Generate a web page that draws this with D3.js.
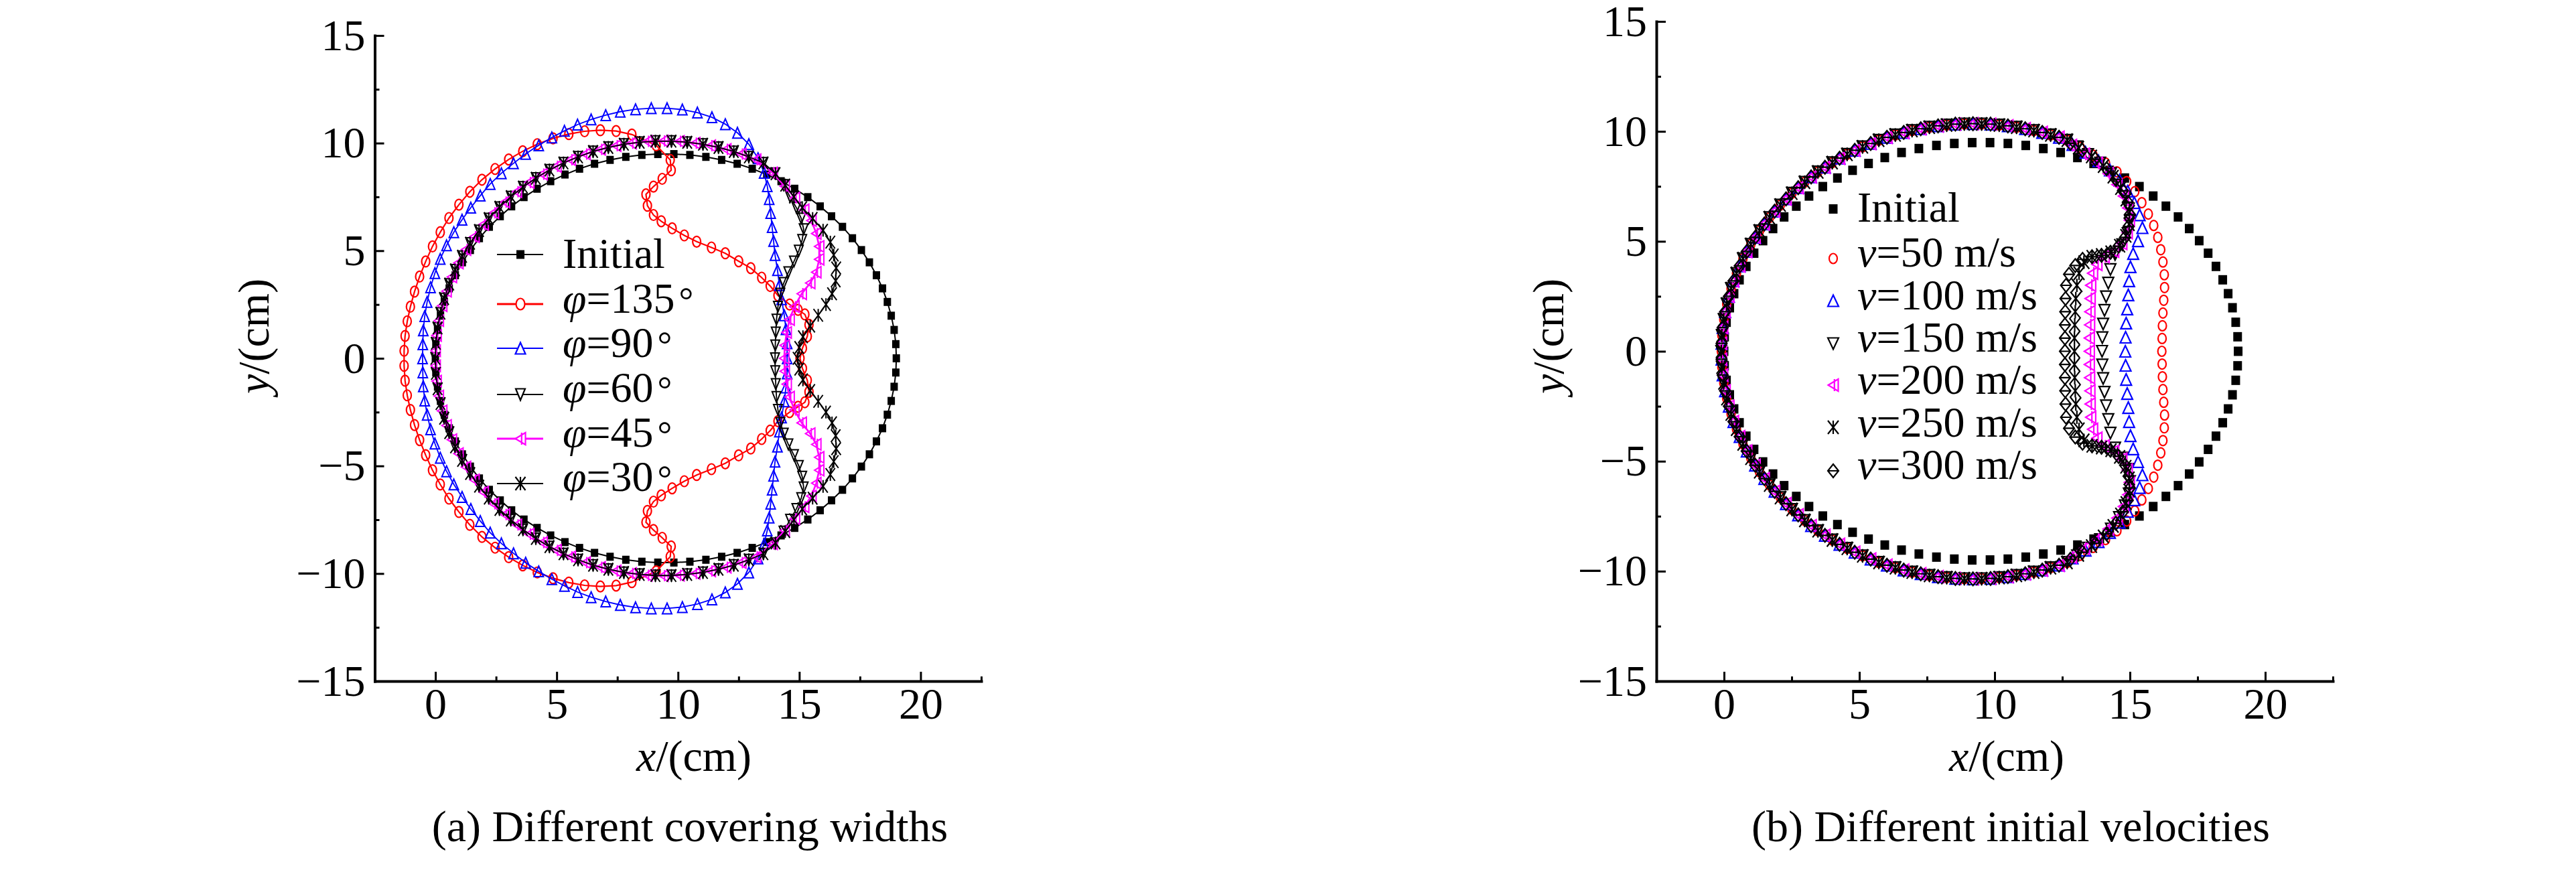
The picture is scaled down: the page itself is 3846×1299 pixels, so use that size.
<!DOCTYPE html>
<html><head><meta charset="utf-8">
<script src="https://cdn.jsdelivr.net/npm/d3@7"></script>
<style>
body{margin:0;background:#fff}
svg{display:block}
text{font-family:"Liberation Serif","Times New Roman","DejaVu Serif",serif;fill:#000}
</style>
</head><body>
<svg id="c" width="3846" height="1299"></svg>
<script>
// ---------------- DATA ----------------
const xDomain = [-2.5, 22.5];
const yDomain = [-15, 15];
const xTicks = [0, 5, 10, 15, 20];
const xMinorTicks = [-2.5, 2.5, 7.5, 12.5, 17.5, 22.5];
const yTicks = [-15, -10, -5, 0, 5, 10, 15];
const yMinorTicks = [-12.5, -7.5, -2.5, 2.5, 7.5, 12.5];

const leftLabels = ["Initial", "φ=135°", "φ=90°", "φ=60°", "φ=45°", "φ=30°"];
const rightLabels = ["Initial", "v=50 m/s", "v=100 m/s", "v=150 m/s", "v=200 m/s", "v=250 m/s", "v=300 m/s"];
const captions = ["(a) Different covering widths", "(b) Different initial velocities"];

// Initial circular section (both panels)
const initialPts = [[19.00,0.00],[18.98,0.66],[18.91,1.32],[18.79,1.98],[18.63,2.62],[18.43,3.25],[18.18,3.86],[17.89,4.46],[17.56,5.03],[17.19,5.58],[16.78,6.11],[16.33,6.60],[15.86,7.06],[15.35,7.49],[14.81,7.88],[14.25,8.23],[13.66,8.54],[13.06,8.81],[12.44,9.04],[11.80,9.22],[11.15,9.36],[10.49,9.45],[9.83,9.49],[9.17,9.49],[8.51,9.45],[7.85,9.36],[7.20,9.22],[6.56,9.04],[5.94,8.81],[5.34,8.54],[4.75,8.23],[4.19,7.88],[3.65,7.49],[3.14,7.06],[2.67,6.60],[2.22,6.11],[1.81,5.58],[1.44,5.03],[1.11,4.46],[0.82,3.86],[0.57,3.25],[0.37,2.62],[0.21,1.98],[0.09,1.32],[0.02,0.66],[0.00,0.00],
[0.02,-0.66],[0.09,-1.32],[0.21,-1.98],[0.37,-2.62],[0.57,-3.25],[0.82,-3.86],[1.11,-4.46],[1.44,-5.03],[1.81,-5.58],[2.22,-6.11],[2.67,-6.60],[3.14,-7.06],[3.65,-7.49],[4.19,-7.88],[4.75,-8.23],[5.34,-8.54],[5.94,-8.81],[6.56,-9.04],[7.20,-9.22],[7.85,-9.36],[8.51,-9.45],[9.17,-9.49],[9.83,-9.49],[10.49,-9.45],[11.15,-9.36],[11.80,-9.22],[12.44,-9.04],[13.06,-8.81],[13.66,-8.54],[14.25,-8.23],[14.81,-7.88],[15.35,-7.49],[15.86,-7.06],[16.33,-6.60],[16.78,-6.11],[17.19,-5.58],[17.56,-5.03],[17.89,-4.46],[18.18,-3.86],[18.43,-3.25],[18.63,-2.62],[18.79,-1.98],[18.91,-1.32],[18.98,-0.66]];

// (a) shared left arcs of phi=60/45/30
const arcA = [[13.52,9.08],[12.92,9.36],[12.30,9.61],[11.67,9.80],[11.03,9.95],[10.38,10.04],[9.73,10.09],[9.07,10.09],[8.42,10.04],[7.77,9.95],[7.13,9.80],[6.50,9.61],[5.88,9.36],[5.28,9.08],[4.70,8.75],[4.14,8.37],[3.61,7.96],[3.11,7.51],[2.64,7.02],[2.20,6.49],[1.80,5.94],[1.43,5.35],[1.10,4.74],[0.81,4.11],[0.57,3.45],[0.36,2.78],[0.21,2.10],[0.09,1.41],[0.02,0.70],[0.00,0.00],
[0.02,-0.70],[0.09,-1.41],[0.21,-2.10],[0.36,-2.78],[0.57,-3.45],[0.81,-4.11],[1.10,-4.74],[1.43,-5.35],[1.80,-5.94],[2.20,-6.49],[2.64,-7.02],[3.11,-7.51],[3.61,-7.96],[4.14,-8.37],[4.70,-8.75],[5.28,-9.08],[5.88,-9.36],[6.50,-9.61],[7.13,-9.80],[7.77,-9.95],[8.42,-10.04],[9.07,-10.09],[9.73,-10.09],[10.38,-10.04],[11.03,-9.95],[11.67,-9.80],[12.30,-9.61],[12.92,-9.36],[13.52,-9.08]];
const arcB = [[13.22,9.23],[12.61,9.49],[11.99,9.71],[11.35,9.88],[10.71,10.00],[10.06,10.08],[9.40,10.10],[8.74,10.08],[8.09,10.00],[7.45,9.88],[6.81,9.71],[6.19,9.49],[5.58,9.23],[4.99,8.92],[4.42,8.56],[3.87,8.17],[3.36,7.74],[2.87,7.26],[2.41,6.76],[1.99,6.22],[1.61,5.65],[1.26,5.05],[0.95,4.43],[0.68,3.78],[0.46,3.12],[0.28,2.44],[0.14,1.75],[0.05,1.06],[0.01,0.35],
[0.01,-0.35],[0.05,-1.06],[0.14,-1.75],[0.28,-2.44],[0.46,-3.12],[0.68,-3.78],[0.95,-4.43],[1.26,-5.05],[1.61,-5.65],[1.99,-6.22],[2.41,-6.76],[2.87,-7.26],[3.36,-7.74],[3.87,-8.17],[4.42,-8.56],[4.99,-8.92],[5.58,-9.23],[6.19,-9.49],[6.81,-9.71],[7.45,-9.88],[8.09,-10.00],[8.74,-10.08],[9.40,-10.10],[10.06,-10.08],[10.71,-10.00],[11.35,-9.88],[11.99,-9.71],[12.61,-9.49],[13.22,-9.23]];

const phi60Top = [[14.00,0.00],[14.01,0.60],[14.03,1.20],[14.06,1.80],[14.12,2.40],[14.22,3.00],[14.36,3.50],[14.55,4.00],[14.78,4.50],[14.98,5.00],[15.12,5.50],[15.18,6.00],[15.08,6.50],[14.88,7.00],[14.62,7.50],[14.35,8.05],[14.00,8.60]];
const phi60Bot = [[14.00,-8.60],[14.35,-8.05],[14.62,-7.50],[14.88,-7.00],[15.08,-6.50],[15.18,-6.00],[15.12,-5.50],[14.98,-5.00],[14.78,-4.50],[14.55,-4.00],[14.36,-3.50],[14.22,-3.00],[14.12,-2.40],[14.06,-1.80],[14.03,-1.20],[14.01,-0.60]];
const phi45Top = [[14.38,0.00],[14.40,0.60],[14.48,1.20],[14.60,1.80],[14.80,2.40],[15.10,3.00],[15.45,3.50],[15.70,4.00],[15.82,4.60],[15.82,5.20],[15.70,5.80],[15.50,6.40],[15.20,6.90],[14.82,7.45],[14.40,8.00],[13.90,8.62]];
const phi45Bot = [[13.90,-8.62],[14.40,-8.00],[14.82,-7.45],[15.20,-6.90],[15.50,-6.40],[15.70,-5.80],[15.82,-5.20],[15.82,-4.60],[15.70,-4.00],[15.45,-3.50],[15.10,-3.00],[14.80,-2.40],[14.60,-1.80],[14.48,-1.20],[14.40,-0.60]];
const phi30Top = [[14.93,0.00],[15.00,0.50],[15.15,1.00],[15.45,1.50],[15.78,2.00],[16.10,2.50],[16.35,3.00],[16.50,3.60],[16.52,4.20],[16.42,4.80],[16.28,5.40],[15.98,5.95],[15.55,6.50],[15.12,7.00],[14.78,7.50],[14.42,8.05],[14.02,8.58]];
const phi30Bot = [[14.02,-8.58],[14.42,-8.05],[14.78,-7.50],[15.12,-7.00],[15.55,-6.50],[15.98,-5.95],[16.28,-5.40],[16.42,-4.80],[16.52,-4.20],[16.50,-3.60],[16.35,-3.00],[16.10,-2.50],[15.78,-2.00],[15.45,-1.50],[15.15,-1.00],[15.00,-0.50]];

const phi90Pts = [[14.50,0.00],[14.50,0.70],[14.45,1.35],[14.38,2.00],[14.27,2.75],[14.18,3.40],[14.10,4.10],[14.00,4.80],[13.94,5.45],[13.88,6.10],[13.82,6.75],[13.76,7.40],[13.68,8.00],[13.55,8.62],[13.30,9.30],[12.92,9.95],[12.45,10.48],[11.95,10.88],[11.40,11.20],[10.80,11.42],[10.18,11.56],[9.55,11.62],[8.90,11.62],[8.25,11.57],[7.62,11.46],[7.02,11.30],[6.42,11.10],[5.86,10.86],[5.32,10.57],[4.80,10.26],[4.26,9.90],[3.72,9.50],[3.22,9.06],[2.72,8.60],[2.26,8.10],[1.85,7.56],[1.46,7.00],[1.10,6.44],[0.76,5.86],[0.46,5.25],[0.20,4.62],[-0.02,3.96],[-0.20,3.30],[-0.34,2.62],[-0.44,1.96],[-0.50,1.30],[-0.52,0.65],[-0.53,0.00],
[-0.52,-0.65],[-0.50,-1.30],[-0.44,-1.96],[-0.34,-2.62],[-0.20,-3.30],[-0.02,-3.96],[0.20,-4.62],[0.46,-5.25],[0.76,-5.86],[1.10,-6.44],[1.46,-7.00],[1.85,-7.56],[2.26,-8.10],[2.72,-8.60],[3.22,-9.06],[3.72,-9.50],[4.26,-9.90],[4.80,-10.26],[5.32,-10.57],[5.86,-10.86],[6.42,-11.10],[7.02,-11.30],[7.62,-11.46],[8.25,-11.57],[8.90,-11.62],[9.55,-11.62],[10.18,-11.56],[10.80,-11.42],[11.40,-11.20],[11.95,-10.88],[12.45,-10.48],[12.92,-9.95],[13.30,-9.30],[13.55,-8.62],[13.68,-8.00],[13.76,-7.40],[13.82,-6.75],[13.88,-6.10],[13.94,-5.45],[14.00,-4.80],[14.10,-4.10],[14.18,-3.40],[14.27,-2.75],[14.38,-2.00],[14.45,-1.35],[14.50,-0.70]];

const phi135Pts = [[15.03,0.00],[15.13,0.47],[15.33,1.02],[15.40,1.56],[15.23,2.04],[14.95,2.25],[14.60,2.50],[14.12,2.92],[13.80,3.36],[13.45,3.75],[13.00,4.19],[12.50,4.51],[11.95,4.88],[11.38,5.15],[10.77,5.42],[10.26,5.71],[9.76,6.04],[9.31,6.37],[8.99,6.66],[8.74,7.09],[8.68,7.62],[8.99,7.98],[9.35,8.34],[9.72,8.74],[9.68,9.22],[9.10,9.90],[8.10,10.40],[7.45,10.56],[6.80,10.60],[6.15,10.55],[5.50,10.42],[4.85,10.22],[4.20,9.95],[3.60,9.62],[3.02,9.24],[2.46,8.80],[1.92,8.30],[1.42,7.74],[0.97,7.14],[0.56,6.52],[0.20,5.86],[-0.12,5.20],[-0.40,4.50],[-0.65,3.80],[-0.86,3.10],[-1.03,2.40],[-1.16,1.72],[-1.25,1.04],[-1.29,0.35],
[-1.29,-0.35],[-1.25,-1.04],[-1.16,-1.72],[-1.03,-2.40],[-0.86,-3.10],[-0.65,-3.80],[-0.40,-4.50],[-0.12,-5.20],[0.20,-5.86],[0.56,-6.52],[0.97,-7.14],[1.42,-7.74],[1.92,-8.30],[2.46,-8.80],[3.02,-9.24],[3.60,-9.62],[4.20,-9.95],[4.85,-10.22],[5.50,-10.42],[6.15,-10.55],[6.80,-10.60],[7.45,-10.56],[8.10,-10.40],[9.10,-9.90],[9.68,-9.22],[9.72,-8.74],[9.35,-8.34],[8.99,-7.98],[8.68,-7.62],[8.74,-7.09],[8.99,-6.66],[9.31,-6.37],[9.76,-6.04],[10.26,-5.71],[10.77,-5.42],[11.38,-5.15],[11.95,-4.88],[12.50,-4.51],[13.00,-4.19],[13.45,-3.75],[13.80,-3.36],[14.12,-2.92],[14.60,-2.50],[14.95,-2.25],[15.23,-2.04],[15.40,-1.56],[15.33,-1.02],[15.13,-0.47]];

// (b) shared left arcs of the velocity cases
const arcR1 = [[12.68,9.60],[12.07,9.84],[11.45,10.04],[10.81,10.19],[10.17,10.29],[9.52,10.34],[8.88,10.34],[8.23,10.29],[7.59,10.19],[6.95,10.04],[6.33,9.84],[5.72,9.60],[5.12,9.30],[4.55,8.96],[4.00,8.58],[3.47,8.16],[2.98,7.69],[2.51,7.19],[2.08,6.65],[1.68,6.08],[1.31,5.48],[0.99,4.86],[0.70,4.21],[0.46,3.54],[0.26,2.85],[0.10,2.15],[-0.01,1.44],[-0.08,0.72],[-0.10,0.00],
[-0.08,-0.72],[-0.01,-1.44],[0.10,-2.15],[0.26,-2.85],[0.46,-3.54],[0.70,-4.21],[0.99,-4.86],[1.31,-5.48],[1.68,-6.08],[2.08,-6.65],[2.51,-7.19],[2.98,-7.69],[3.47,-8.16],[4.00,-8.58],[4.55,-8.96],[5.12,-9.30],[5.72,-9.60],[6.33,-9.84],[6.95,-10.04],[7.59,-10.19],[8.23,-10.29],[8.88,-10.34],[9.52,-10.34],[10.17,-10.29],[10.81,-10.19],[11.45,-10.04],[12.07,-9.84],[12.68,-9.60]];
const arcR2 = [[12.38,9.73],[11.76,9.95],[11.13,10.12],[10.49,10.25],[9.85,10.33],[9.20,10.35],[8.55,10.33],[7.91,10.25],[7.27,10.12],[6.64,9.95],[6.02,9.73],[5.42,9.45],[4.83,9.14],[4.27,8.78],[3.73,8.37],[3.22,7.93],[2.74,7.44],[2.29,6.93],[1.87,6.37],[1.49,5.79],[1.15,5.18],[0.84,4.54],[0.58,3.88],[0.35,3.20],[0.18,2.50],[0.04,1.80],[-0.05,1.08],[-0.09,0.36],
[-0.09,-0.36],[-0.05,-1.08],[0.04,-1.80],[0.18,-2.50],[0.35,-3.20],[0.58,-3.88],[0.84,-4.54],[1.15,-5.18],[1.49,-5.79],[1.87,-6.37],[2.29,-6.93],[2.74,-7.44],[3.22,-7.93],[3.73,-8.37],[4.27,-8.78],[4.83,-9.14],[5.42,-9.45],[6.02,-9.73],[6.64,-9.95],[7.27,-10.12],[7.91,-10.25],[8.55,-10.33],[9.20,-10.35],[9.85,-10.33],[10.49,-10.25],[11.13,-10.12],[11.76,-9.95],[12.38,-9.73]];

const v50Top = [[16.18,0.00],[16.19,0.58],[16.20,1.16],[16.22,1.74],[16.25,2.32],[16.28,2.90],[16.27,3.48],[16.22,4.06],[16.14,4.62],[16.03,5.18],[15.88,5.72],[15.68,6.24],[15.44,6.76],[15.18,7.26],[14.88,7.72],[14.52,8.16],[14.10,8.56],[13.64,8.92],[13.16,9.28]];
const v50Bot = [[13.16,-9.28],[13.64,-8.92],[14.10,-8.56],[14.52,-8.16],[14.88,-7.72],[15.18,-7.26],[15.44,-6.76],[15.68,-6.24],[15.88,-5.72],[16.03,-5.18],[16.14,-4.62],[16.22,-4.06],[16.27,-3.48],[16.28,-2.90],[16.25,-2.32],[16.22,-1.74],[16.20,-1.16],[16.19,-0.58]];
const v100Top = [[14.83,0.00],[14.84,0.64],[14.86,1.28],[14.90,1.92],[14.94,2.56],[14.97,3.20],[15.02,3.84],[15.12,4.44],[15.30,5.02],[15.46,5.62],[15.36,6.20],[15.16,6.76],[14.92,7.28],[14.62,7.78],[14.26,8.24],[13.84,8.66],[13.36,9.05],[12.88,9.40]];
const v100Bot = [[12.88,-9.40],[13.36,-9.05],[13.84,-8.66],[14.26,-8.24],[14.62,-7.78],[14.92,-7.28],[15.16,-6.76],[15.36,-6.20],[15.46,-5.62],[15.30,-5.02],[15.12,-4.44],[15.02,-3.84],[14.97,-3.20],[14.94,-2.56],[14.90,-1.92],[14.86,-1.28],[14.84,-0.64]];
const v150Top = [[13.97,0.00],[13.98,0.62],[14.01,1.24],[14.06,1.86],[14.12,2.48],[14.20,3.10],[14.28,3.72],[14.45,4.40],[14.72,4.85],[14.92,5.36],[15.00,5.92],[14.96,6.48],[14.82,7.02],[14.60,7.56],[14.30,8.08],[13.90,8.56],[13.45,8.95],[13.05,9.30]];
const v150Bot = [[13.05,-9.30],[13.45,-8.95],[13.90,-8.56],[14.30,-8.08],[14.60,-7.56],[14.82,-7.02],[14.96,-6.48],[15.00,-5.92],[14.92,-5.36],[14.72,-4.85],[14.45,-4.40],[14.28,-3.72],[14.20,-3.10],[14.12,-2.48],[14.06,-1.86],[14.01,-1.24],[13.98,-0.62]];
const v200Top = [[13.50,0.00],[13.50,0.60],[13.51,1.20],[13.52,1.80],[13.53,2.40],[13.55,3.00],[13.62,3.55],[13.78,3.95],[14.05,4.30],[14.40,4.55],[14.70,4.90],[14.90,5.40],[14.98,5.96],[14.92,6.52],[14.76,7.06],[14.52,7.58],[14.20,8.08],[13.80,8.55],[13.32,8.96],[12.84,9.36]];
const v200Bot = [[12.84,-9.36],[13.32,-8.96],[13.80,-8.55],[14.20,-8.08],[14.52,-7.58],[14.76,-7.06],[14.92,-6.52],[14.98,-5.96],[14.90,-5.40],[14.70,-4.90],[14.40,-4.55],[14.05,-4.30],[13.78,-3.95],[13.62,-3.55],[13.55,-3.00],[13.53,-2.40],[13.52,-1.80],[13.51,-1.20],[13.50,-0.60]];
const v250Top = [[12.95,0.00],[12.95,0.60],[12.96,1.20],[12.98,1.80],[13.00,2.40],[13.04,3.00],[13.12,3.55],[13.30,4.05],[13.60,4.30],[13.95,4.38],[14.30,4.50],[14.62,4.80],[14.85,5.25],[14.97,5.78],[14.98,6.34],[14.86,6.90],[14.66,7.42],[14.38,7.94],[14.02,8.42],[13.58,8.86],[13.10,9.26]];
const v250Bot = [[13.10,-9.26],[13.58,-8.86],[14.02,-8.42],[14.38,-7.94],[14.66,-7.42],[14.86,-6.90],[14.98,-6.34],[14.97,-5.78],[14.85,-5.25],[14.62,-4.80],[14.30,-4.50],[13.95,-4.38],[13.60,-4.30],[13.30,-4.05],[13.12,-3.55],[13.04,-3.00],[13.00,-2.40],[12.98,-1.80],[12.96,-1.20],[12.95,-0.60]];
const v300Top = [[12.60,0.00],[12.60,0.60],[12.60,1.20],[12.61,1.80],[12.62,2.40],[12.64,3.00],[12.75,3.50],[12.98,3.90],[13.25,4.18],[13.60,4.30],[13.95,4.36],[14.28,4.50],[14.58,4.78],[14.82,5.18],[14.95,5.68],[15.00,6.22],[14.92,6.78],[14.74,7.30],[14.48,7.82],[14.14,8.30],[13.72,8.74],[13.24,9.14],[12.80,9.46]];
const v300Bot = [[12.80,-9.46],[13.24,-9.14],[13.72,-8.74],[14.14,-8.30],[14.48,-7.82],[14.74,-7.30],[14.92,-6.78],[15.00,-6.22],[14.95,-5.68],[14.82,-5.18],[14.58,-4.78],[14.28,-4.50],[13.95,-4.36],[13.60,-4.30],[13.25,-4.18],[12.98,-3.90],[12.75,-3.50],[12.64,-3.00],[12.62,-2.40],[12.61,-1.80],[12.60,-1.20],[12.60,-0.60]];

const phi60Pts = [...phi60Top, ...arcA, ...phi60Bot];
const phi45Pts = [...phi45Top, ...arcB, ...phi45Bot];
const phi30Pts = [...phi30Top, ...arcA, ...phi30Bot];
const v50Pts = [...v50Top, ...arcR1, ...v50Bot];
const v100Pts = [...v100Top, ...arcR2, ...v100Bot];
const v150Pts = [...v150Top, ...arcR1, ...v150Bot];
const v200Pts = [...v200Top, ...arcR2, ...v200Bot];
const v250Pts = [...v250Top, ...arcR1, ...v250Bot];
const v300Pts = [...v300Top, ...arcR2, ...v300Bot];

// ---------------- DRAWING ----------------
const svg = d3.select("#c");
const FS = 66;
const LFS = 64;

function shapePath(type, w, h) {
  const a = w / 2, b = h / 2;
  switch (type) {
    case "square": return `M${-a},${-b}h${w}v${h}h${-w}Z`;
    case "circle": return `M${-a},0A${a},${b} 0 1,0 ${a},0A${a},${b} 0 1,0 ${-a},0Z`;
    case "triUp": return `M0,${-b}L${a},${b}L${-a},${b}Z`;
    case "triDown": return `M0,${b}L${a},${-b}L${-a},${-b}Z`;
    case "triLeftBar": return `M${-a},0L${a},${-b}L${a},${b}Z M${w * 0.12},${-b}V${b}`;
    case "xBar": return `M${-a},${-b}L${a},${b}M${a},${-b}L${-a},${b}M0,${-b}V${b}`;
    case "diamondBar": return `M0,${-b}L${a},0L0,${b}L${-a},0Z M${-a},0H${a}`;
  }
}

function drawAxes(g, x, y) {
  const gx = g.append("g").attr("transform", `translate(0,${y(yDomain[0])})`);
  gx.call(d3.axisBottom(x).tickValues(xTicks).tickSize(-14).tickSizeOuter(0).tickPadding(9));
  const gxm = g.append("g").attr("transform", `translate(0,${y(yDomain[0])})`);
  gxm.call(d3.axisBottom(x).tickValues(xMinorTicks).tickSize(-7).tickSizeOuter(0).tickFormat(() => ""));
  gxm.select(".domain").remove();
  const gy = g.append("g").attr("transform", `translate(${x(xDomain[0])},0)`);
  gy.call(d3.axisLeft(y).tickValues(yTicks).tickSize(-14).tickSizeOuter(0).tickPadding(14));
  const gym = g.append("g").attr("transform", `translate(${x(xDomain[0])},0)`);
  gym.call(d3.axisLeft(y).tickValues(yMinorTicks).tickSize(-7).tickSizeOuter(0).tickFormat(() => ""));
  gym.select(".domain").remove();
  g.selectAll(".domain").attr("stroke", "#000").attr("stroke-width", 4).attr("stroke-linecap", "square");
  g.selectAll(".tick line").attr("stroke", "#000").attr("stroke-width", 3);
  g.selectAll(".tick text").attr("font-size", FS).attr("font-family", '"Liberation Serif","Times New Roman",serif').attr("fill", "#000");
}

function drawMarkers(g, pts, x, y, st) {
  g.append("g").selectAll("path").data(pts).join("path")
    .attr("transform", d => `translate(${x(d[0])},${y(d[1])})`)
    .attr("d", shapePath(st.shape, st.w, st.h))
    .attr("fill", st.shape === "square" ? st.color : "none")
    .attr("stroke", st.shape === "square" ? "none" : st.color)
    .attr("stroke-width", st.sw);
}

function labelText(t, label) {
  if (label[0] === "φ" || label[0] === "v") {
    t.append("tspan").attr("font-style", "italic").text(label[0]);
    const rest = label.slice(1);
    if (rest.endsWith("°")) {
      t.append("tspan").text(rest.slice(0, -1));
      t.append("tspan").attr("font-size", LFS * 0.85).attr("dx", 6).text("°");
    } else {
      t.append("tspan").text(rest);
    }
  } else t.text(label);
}

// ---- Panel (a)
{
  const x = d3.scaleLinear().domain(xDomain).range([559.5, 1465]);
  const y = d3.scaleLinear().domain(yDomain).range([1017, 53]);
  const g = svg.append("g");
  const series = [
    {pts: initialPts, color: "#000", shape: "square", w: 11, h: 12, sw: 0, lw: 2},
    {pts: phi135Pts, color: "#ff0000", shape: "circle", w: 12, h: 16, sw: 2.2, lw: 2.2},
    {pts: phi90Pts, color: "#0000ff", shape: "triUp", w: 14, h: 16, sw: 2, lw: 1.8},
    {pts: phi60Pts, color: "#000", shape: "triDown", w: 13, h: 16, sw: 2, lw: 1.8},
    {pts: phi45Pts, color: "#ff00ff", shape: "triLeftBar", w: 14, h: 17, sw: 2, lw: 2.6},
    {pts: phi30Pts, color: "#000", shape: "xBar", w: 14, h: 19, sw: 2, lw: 1.8}
  ];
  const line = d3.line().x(d => x(d[0])).y(d => y(d[1])).curve(d3.curveLinearClosed);
  series.forEach(s => {
    g.append("path").attr("d", line(s.pts)).attr("fill", "none").attr("stroke", s.color).attr("stroke-width", s.lw);
    drawMarkers(g, s.pts, x, y, s);
  });
  drawAxes(g, x, y);
  const rowsY = [380, 454, 520, 589, 655, 722];
  const baseY = [400, 467, 533, 600, 667, 733];
  const lg = g.append("g");
  series.forEach((s, i) => {
    lg.append("line").attr("x1", 742).attr("x2", 811).attr("y1", rowsY[i]).attr("y2", rowsY[i])
      .attr("stroke", s.color).attr("stroke-width", i === 1 || i === 4 ? 3.2 : 2.2);
    lg.append("path").attr("transform", `translate(777,${rowsY[i]})`).attr("d", shapePath(s.shape, s.w + 1, s.h + 1))
      .attr("fill", s.shape === "square" ? s.color : "#fff").attr("stroke", s.shape === "square" ? "none" : s.color).attr("stroke-width", 2.2);
    const t = lg.append("text").attr("x", 840).attr("y", baseY[i]).attr("font-size", LFS);
    labelText(t, leftLabels[i]);
  });
  g.append("text").attr("x", 1036).attr("y", 1151).attr("text-anchor", "middle").attr("font-size", FS)
    .call(t => { t.append("tspan").attr("font-style", "italic").text("x"); t.append("tspan").text("/(cm)"); });
  g.append("text").attr("transform", "translate(401,502) rotate(-90)").attr("text-anchor", "middle").attr("font-size", FS)
    .call(t => { t.append("tspan").attr("font-style", "italic").text("y"); t.append("tspan").text("/(cm)"); });
  g.append("text").attr("x", 1030).attr("y", 1256).attr("text-anchor", "middle").attr("font-size", 66).text(captions[0]);
}

// ---- Panel (b)
{
  const x = d3.scaleLinear().domain(xDomain).range([2473, 3483]);
  const y = d3.scaleLinear().domain(yDomain).range([1017, 32]);
  const g = svg.append("g");
  const series = [
    {pts: initialPts, color: "#000", shape: "square", w: 13, h: 14, sw: 0},
    {pts: v50Pts, color: "#ff0000", shape: "circle", w: 12, h: 15, sw: 2.2},
    {pts: v100Pts, color: "#0000ff", shape: "triUp", w: 16, h: 17, sw: 2.2},
    {pts: v150Pts, color: "#000", shape: "triDown", w: 16, h: 17, sw: 2.2},
    {pts: v200Pts, color: "#ff00ff", shape: "triLeftBar", w: 15, h: 18, sw: 2.2},
    {pts: v250Pts, color: "#000", shape: "xBar", w: 16, h: 20, sw: 2.2},
    {pts: v300Pts, color: "#000", shape: "diamondBar", w: 16, h: 20, sw: 2.2}
  ];
  series.forEach(s => drawMarkers(g, s.pts, x, y, s));
  drawAxes(g, x, y);
  const rowsY = [312, 386, 449, 513, 575, 638, 703];
  const baseY = [331, 398, 462, 525, 588, 652, 715];
  const lg = g.append("g");
  series.forEach((s, i) => {
    lg.append("path").attr("transform", `translate(2737,${rowsY[i]})`).attr("d", shapePath(s.shape, s.w, s.h))
      .attr("fill", s.shape === "square" ? s.color : "none").attr("stroke", s.shape === "square" ? "none" : s.color).attr("stroke-width", 2.2);
    const t = lg.append("text").attr("x", 2773).attr("y", baseY[i]).attr("font-size", LFS);
    labelText(t, rightLabels[i]);
  });
  g.append("text").attr("x", 2996).attr("y", 1151).attr("text-anchor", "middle").attr("font-size", FS)
    .call(t => { t.append("tspan").attr("font-style", "italic").text("x"); t.append("tspan").text("/(cm)"); });
  g.append("text").attr("transform", "translate(2334,502) rotate(-90)").attr("text-anchor", "middle").attr("font-size", FS)
    .call(t => { t.append("tspan").attr("font-style", "italic").text("y"); t.append("tspan").text("/(cm)"); });
  g.append("text").attr("x", 3002).attr("y", 1256).attr("text-anchor", "middle").attr("font-size", 66).text(captions[1]);
}
</script>
</body></html>
